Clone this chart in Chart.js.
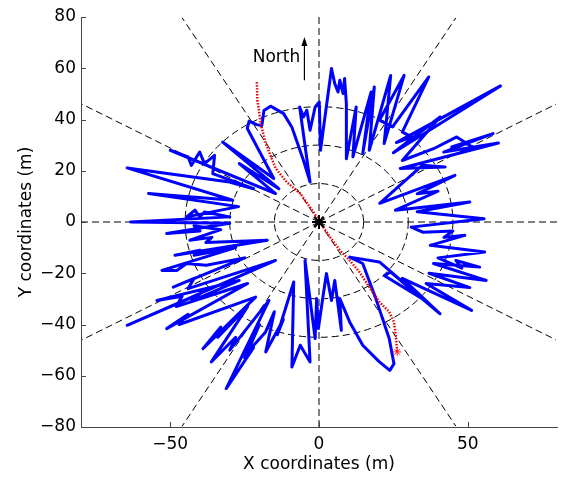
<!DOCTYPE html>
<html>
<head>
<meta charset="utf-8">
<script src="https://cdn.jsdelivr.net/npm/chart.js@4/dist/chart.umd.min.js"></script>
<style>
  html, body { margin: 0; padding: 0; background: #fff; }
  #wrap { width: 566px; height: 477px; }
</style>
</head>
<body>
<div id="wrap"><canvas id="scanChart" width="566" height="477"></canvas></div>
<script>
// axis ticks (m)
const xTicks = [-50, 0, 50];
const yTicks = [-80, -60, -40, -20, 0, 20, 40, 60, 80];

// range scan outline, metres
const scanX = [31, 55.5, 33, 50.7, 25.7, 40, 33, 45.7, 20.4, 34.7, 42.4, 27.3, 38, 60.3, 41.9, 58.5, 44.6, 49, 52.4, 46.3,
  38.5, 28, 40.7, 25, 61, 26, 31.3, 28, 36.9, 24.7, 20.3, 28.6, 21.9, 24.1, 16.9, 18.6, 14.7, 17.5, 11.4, 12.5,
  9.2, 9.2, 8.6, 8.1, 7, 6.4, 5.3, 4.2, 0.5, 0.1, -1.3, -3, -4.1, -5.2, -6.5, -3,
  -5.2, -9.1, -11.9, -16.3, -18.5, -19.2, -21, -23.5, -24.1, -15.2,
  -32.4, -13.5, -26.8, -14.6, -50, -44, -42.9, -40.1, -38.5, -35.1, -35.7, -22, -30.1, -64.5, -29, -57.3, -27,
  -44.5, -41.7, -40.1, -38.5, -30, -63.3,
  -30, -51.2, -40, -42, -33, -43.4, -36, -38, -17.4, -48.4, -40, -42, -28, -52.8, -47.8, -44.5, -37.9, -25,
  -49, -42, -44, -14.6, -64.5, -40, -43, -26.8, -54.5, -46, -48, -24, -51.2, -44, -47, -21.3,
  -39, -33, -34, -24, -36.2, -28, -30, -16.8, -31.2, -22, -25, -20, -24, -18, -15, -17.9, -12, -14,
  -8.5, -9.1, -6.3, -3, -4.7,
  -1.3, -0.8, -0.2, 1.4, 2.5, 4.2, 5.3, 7.5, 7, 10.3, 14.7, 20.3, 23.8, 25.2, 23.6, 19.1, 14.7, 10.3,
  20.3, 34.7, 22, 24, 40.7, 28, 51.3, 36, 50.7, 37, 56.2, 38.5, 54, 46, 48, 40, 55.7, 37.4, 49, 42, 45, 35, 31];
const scanY = [-2, 1.3, 4, 7.8, 4.6, 12, 11, 18.2, 7.3, 22.1, 21.5, 20.9, 24.1, 30.8, 27.3, 34.5, 29.3, 28, 28.6, 33.2,
  28.6, 24, 41, 27, 53.1, 31, 33.2, 35.1, 56.6, 37.1, 39.7, 57.2, 30.6, 57.2, 28, 52.7, 26.7, 50.7, 25.4, 44.9,
  24.7, 46.2, 56, 50.1, 55.3, 50.7, 54, 59.9, 28, 46.8, 44.9, 35.8, 43.6, 41, 44.9, 15.6,
  24, 37, 42.3, 45.2, 43.5, 37.7, 38, 39.4, 36.5, 17,
  31.2, 13, 22.8, 11.1, 28, 25.4, 22.1, 27.3, 22.8, 26, 18.9, 13, 15.6, 21.1, 8.5, 11.1, 6,
  2, 4.6, 2, 3.9, 2, 0,
  -0.5, -4.5, -3.5, -1.5, -3, -7.1, -6, -8, -7.1, -13, -11, -13, -10, -18.9, -18.9, -16.2, -16.9, -14,
  -25.4, -22, -26, -15, -40.3, -28, -31, -22.8, -30.6, -29, -33, -24, -41.6, -36, -40, -29.3,
  -49.4, -41, -45, -33, -54.6, -45, -50, -30.6, -65, -49, -53, -40, -50.7, -43, -35, -50.7, -38, -44,
  -23.4, -56.6, -48.1, -54.6, -15,
  -45.5, -29.9, -41.6, -28.6, -20.1, -30.6, -22.8, -42.3, -29.9, -39, -48.1, -54.6, -57.9, -55.3, -45.5, -29.9, -16.2, -13.7,
  -15.6, -29.9, -21, -19.5, -35.8, -22, -34.5, -24, -25.6, -20, -22.8, -16.2, -17.6, -15, -18, -14, -11.7, -9.1, -5.2, -6, -3.5, -4, -2];

// walked route, metres
const routeX = [-20.9, -20.7, -20.2, -19.6, -17.9, -14.6, -10.8, -6.3, -1.9, 0.3, 3.7, 7, 10.3, 13.6, 16.9, 20.3, 23.6, 25.2, 25.8, 26.3];
const routeY = [54.6, 47.5, 43.6, 38.4, 30.6, 21, 15.5, 11.1, 3.9, 0, -5.9, -11, -15, -19.5, -25.4, -31.2, -35.1, -39, -44.2, -50.7];

// polar guide grid
const ringRadii = [15, 30, 45];
const spokeAngles = [0, 30, 60, 90, 120, 150, 180, 210, 240, 270, 300, 330];
const spokeLength = 92;

const FONT = '"DejaVu Sans", sans-serif';
const AXIS_COLOR = '#444';

const pts = (xs, ys) => xs.map((v, i) => ({ x: v, y: ys[i] }));
const minusFmt = v => (v < 0 ? '\u2212' + Math.abs(v) : String(v));

const polarGuides = {
    id: 'polarGuides',
    beforeDatasetsDraw(chart) {
        const { ctx, chartArea: a, scales: { x, y } } = chart;
        const cx = x.getPixelForValue(0), cy = y.getPixelForValue(0);
        ctx.save();
        ctx.beginPath();
        ctx.rect(a.left, a.top, a.width, a.height);
        ctx.clip();
        ctx.strokeStyle = '#000';
        ctx.lineWidth = 1;
        ctx.setLineDash([7, 4]);
        ringRadii.forEach(r => {
            const rx = x.getPixelForValue(r) - cx;
            const ry = cy - y.getPixelForValue(r);
            ctx.beginPath();
            ctx.ellipse(cx, cy, rx, ry, 0, 0, Math.PI * 2);
            ctx.stroke();
        });
        spokeAngles.forEach(deg => {
            const t = deg * Math.PI / 180;
            ctx.beginPath();
            ctx.moveTo(cx, cy);
            ctx.lineTo(x.getPixelForValue(spokeLength * Math.cos(t)), y.getPixelForValue(spokeLength * Math.sin(t)));
            ctx.stroke();
        });
        ctx.restore();
    },
    afterDraw(chart) {
        const { ctx, chartArea: a, scales: { x, y } } = chart;
        ctx.save();
        // inward tick marks
        ctx.strokeStyle = AXIS_COLOR;
        ctx.lineWidth = 1;
        xTicks.forEach(v => {
            const px = Math.round(x.getPixelForValue(v)) + 0.5;
            ctx.beginPath(); ctx.moveTo(px, a.bottom); ctx.lineTo(px, a.bottom - 5); ctx.stroke();
        });
        yTicks.forEach(v => {
            const py = Math.round(y.getPixelForValue(v)) + 0.5;
            ctx.beginPath(); ctx.moveTo(a.left, py); ctx.lineTo(a.left + 5, py); ctx.stroke();
        });
        // north marker
        const nx = x.getPixelForValue(-4.9);
        ctx.fillStyle = '#000';
        ctx.font = '17px ' + FONT;
        ctx.textAlign = 'right';
        ctx.textBaseline = 'alphabetic';
        ctx.fillText('North', x.getPixelForValue(-6.3), y.getPixelForValue(62.4));
        const y0 = y.getPixelForValue(55.3), y1 = y.getPixelForValue(72.2);
        ctx.strokeStyle = '#000';
        ctx.lineWidth = 1.2;
        ctx.beginPath(); ctx.moveTo(nx, y0); ctx.lineTo(nx, y1 + 6); ctx.stroke();
        ctx.beginPath();
        ctx.moveTo(nx, y1); ctx.lineTo(nx - 3, y1 + 9); ctx.lineTo(nx + 3, y1 + 9); ctx.closePath();
        ctx.fill();
        ctx.restore();
    }
};

const axisBase = {
    type: 'linear',
    grid: { display: false, drawTicks: false },
    border: { display: true, color: AXIS_COLOR, width: 1 },
    ticks: { color: '#000', font: { family: FONT, size: 17 }, callback: minusFmt }
};

new Chart(document.getElementById('scanChart').getContext('2d'), {
    type: 'scatter',
    data: {
        datasets: [
            {
                label: 'start',
                data: [{ x: 0, y: 0 }],
                pointStyle: 'star',
                pointRadius: 7,
                borderColor: '#000',
                backgroundColor: '#000',
                borderWidth: 2
            },
            {
                label: 'end',
                data: [{ x: routeX[routeX.length - 1], y: routeY[routeY.length - 1] }],
                pointStyle: 'star',
                pointRadius: 4,
                borderColor: '#ff2020',
                borderWidth: 1
            },
            {
                label: 'route',
                data: pts(routeX, routeY),
                showLine: true,
                borderColor: '#ee0000',
                borderWidth: 2.5,
                borderDash: [1.5, 1.5],
                pointRadius: 0,
                tension: 0
            },
            {
                label: 'scan',
                data: pts(scanX, scanY),
                showLine: true,
                borderColor: '#0000ff',
                borderWidth: 3,
                borderJoinStyle: 'round',
                borderCapStyle: 'round',
                pointRadius: 0,
                tension: 0
            }
        ]
    },
    options: {
        responsive: false,
        animation: false,
        devicePixelRatio: 1,
        layout: { padding: { top: 17, right: 4.5, left: 0, bottom: 0 } },
        plugins: { legend: { display: false }, tooltip: { enabled: false } },
        scales: {
            x: {
                ...axisBase,
                position: 'bottom',
                min: -80, max: 80,
                ticks: { ...axisBase.ticks, padding: 7 },
                afterBuildTicks: s => { s.ticks = xTicks.map(v => ({ value: v })); },
                afterFit: s => { s.height = 50; },
                title: { display: true, text: 'X coordinates (m)', color: '#000', font: { family: FONT, size: 17 }, padding: { top: 0, bottom: 2 } }
            },
            y: {
                ...axisBase,
                position: 'left',
                min: -80, max: 80,
                ticks: { ...axisBase.ticks, padding: 5 },
                afterBuildTicks: s => { s.ticks = yTicks.map(v => ({ value: v })); },
                afterFit: s => { s.width = 81; },
                title: { display: true, text: 'Y coordinates (m)', color: '#000', font: { family: FONT, size: 17 }, padding: { top: 16, bottom: 0 } }
            }
        }
    },
    plugins: [polarGuides]
});
</script>
</body>
</html>
